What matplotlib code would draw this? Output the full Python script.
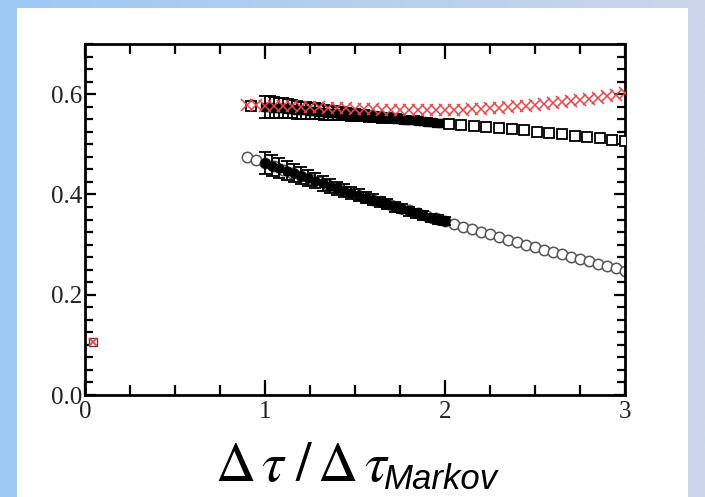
import matplotlib
matplotlib.use('Agg')
import matplotlib.pyplot as plt
import numpy as np
from matplotlib.patches import Rectangle
from matplotlib.ticker import MultipleLocator

# red crosses (x, y)
red_x = [0.90, 0.95, 1.00, 1.05, 1.10, 1.15, 1.20, 1.25, 1.30, 1.35, 1.40,
         1.45, 1.50, 1.55, 1.60, 1.65, 1.70, 1.75, 1.80, 1.85, 1.90, 1.95,
         2.00, 2.05, 2.10, 2.15, 2.20, 2.25, 2.30, 2.35, 2.40, 2.45, 2.50,
         2.55, 2.60, 2.65, 2.70, 2.75, 2.80, 2.85, 2.90, 2.95, 3.00]
red_y = [0.578, 0.578, 0.577, 0.577, 0.576, 0.576, 0.575, 0.574, 0.574, 0.573,
         0.572, 0.572, 0.571, 0.570, 0.570, 0.569, 0.569, 0.568, 0.568, 0.568,
         0.568, 0.568, 0.568, 0.569, 0.569, 0.570, 0.571, 0.572, 0.573, 0.574,
         0.576, 0.577, 0.579, 0.580, 0.582, 0.584, 0.586, 0.588, 0.590, 0.593,
         0.596, 0.599, 0.602]

# squares with error bars, dense part
sq_x = [1.000, 1.025, 1.050, 1.075, 1.100, 1.125, 1.150, 1.175, 1.200,
        1.225, 1.250, 1.275, 1.300, 1.325, 1.350, 1.375, 1.400, 1.425, 1.450,
        1.475, 1.500, 1.525, 1.550, 1.575, 1.600, 1.625, 1.650, 1.675, 1.700,
        1.725, 1.750, 1.775, 1.800, 1.825, 1.850, 1.875, 1.900, 1.925, 1.950,
        1.975, 2.000]
sq_y = [0.575, 0.574, 0.573, 0.573, 0.572, 0.571, 0.570, 0.569, 0.568,
        0.568, 0.567, 0.566, 0.565, 0.564, 0.563, 0.563, 0.562, 0.561, 0.560,
        0.559, 0.558, 0.558, 0.557, 0.556, 0.555, 0.554, 0.553, 0.553, 0.552,
        0.551, 0.550, 0.549, 0.548, 0.548, 0.547, 0.546, 0.545, 0.544, 0.543,
        0.543, 0.542]
sq_err = [0.022, 0.0215, 0.021, 0.020, 0.020, 0.019, 0.018, 0.018, 0.017,
          0.017, 0.016, 0.016, 0.015, 0.015, 0.014, 0.014, 0.013, 0.013, 0.012,
          0.012, 0.012, 0.011, 0.011, 0.011, 0.010, 0.010, 0.010, 0.009, 0.009,
          0.009, 0.008, 0.008, 0.008, 0.008, 0.007, 0.007, 0.007, 0.007, 0.006,
          0.006, 0.006]

# open squares, coarse part
sq2_x = [0.92, 2.02, 2.09, 2.16, 2.23, 2.30, 2.37, 2.44, 2.51, 2.58, 2.65,
         2.72, 2.79, 2.86, 2.93, 3.00]
sq2_y = [0.576, 0.541, 0.539, 0.537, 0.535, 0.533, 0.530, 0.528, 0.525, 0.523,
         0.520, 0.517, 0.515, 0.512, 0.509, 0.506]
sq2_err = [0.004] * 16

# open circles
oc_x = red_x
oc_y = [0.474, 0.468, 0.462, 0.456, 0.449, 0.443, 0.437, 0.431, 0.424, 0.418,
        0.412, 0.406, 0.400, 0.395, 0.389, 0.384, 0.379, 0.373, 0.368, 0.363,
        0.357, 0.352, 0.347, 0.342, 0.336, 0.331, 0.326, 0.321, 0.315, 0.310,
        0.305, 0.300, 0.295, 0.290, 0.286, 0.281, 0.276, 0.271, 0.267, 0.262,
        0.257, 0.253, 0.248]

# filled circles with error bars
fc_x = [1.00, 1.04, 1.08, 1.12, 1.16, 1.20, 1.24, 1.28, 1.32, 1.36, 1.40,
        1.44, 1.48, 1.52, 1.56, 1.60, 1.64, 1.68, 1.72, 1.76, 1.80, 1.84,
        1.88, 1.92, 1.96, 2.00]
fc_y = [0.462, 0.457, 0.452, 0.447, 0.442, 0.437, 0.432, 0.427, 0.422, 0.417,
        0.412, 0.407, 0.402, 0.398, 0.393, 0.389, 0.384, 0.380, 0.375, 0.371,
        0.366, 0.362, 0.358, 0.353, 0.350, 0.347]
fc_err = [0.022, 0.021, 0.020, 0.019, 0.018, 0.017, 0.016, 0.015, 0.015, 0.014,
          0.013, 0.013, 0.012, 0.012, 0.011, 0.011, 0.010, 0.010, 0.010, 0.009,
          0.009, 0.009, 0.008, 0.008, 0.008, 0.008]

# point near zero
p0_x = [0.045]
p0_y = [0.106]

fig = plt.figure(figsize=(7.05, 4.97), dpi=100)

# slide background: blue gradient frame with white panel
bg = fig.add_axes([0, 0, 1, 1])
grad = np.linspace(0, 1, 256)
c0 = np.array([158, 200, 245]) / 255
c1 = np.array([205, 214, 234]) / 255
img = c0[None, None, :] * (1 - grad[None, :, None]) + c1[None, None, :] * grad[None, :, None]
bg.imshow(img, aspect='auto', extent=[0, 1, 0, 1])
bg.add_patch(Rectangle((17 / 705, 0), (688 - 17) / 705, (497 - 8) / 497,
                       facecolor='white', edgecolor='none'))
bg.set_xlim(0, 1)
bg.set_ylim(0, 1)
bg.axis('off')

ax = fig.add_axes([85 / 705, 102 / 497, 540 / 705, 351 / 497])
ax.set_facecolor('white')

ax.plot(oc_x, oc_y, 'o', ms=7.5, mfc='white', mec='#555555', mew=1.1, zorder=2)
ax.errorbar(fc_x, fc_y, yerr=fc_err, fmt='o', ms=6.5, color='black',
            ecolor='black', elinewidth=1.3, capsize=4, capthick=1.3, zorder=3)
ax.errorbar(sq_x, sq_y, yerr=sq_err, fmt='s', ms=6, color='black',
            ecolor='black', elinewidth=1.3, capsize=4, capthick=1.3, zorder=3)
ax.errorbar(sq2_x, sq2_y, yerr=sq2_err, fmt='s', ms=7.5, mfc='white', mec='black',
            mew=1.3, ecolor='black', elinewidth=1.2, capsize=3.5, capthick=1.2, zorder=3)
ax.plot(p0_x, p0_y, 's', ms=6, mfc='white', mec='#444444', mew=1.0, zorder=3)
ax.plot(red_x, red_y, 'x', ms=9, color='#e8454a', mew=1.1, zorder=4)
ax.plot(p0_x, p0_y, 'x', ms=6, color='#e8454a', mew=1.3, zorder=4)

ax.set_xlim(0, 3)
ax.set_ylim(0, 0.7)
ax.xaxis.set_minor_locator(MultipleLocator(0.25))
ax.yaxis.set_minor_locator(MultipleLocator(0.025))
ax.set_xticks([0, 1, 2, 3])
ax.set_xticklabels(['0', '1', '2', '3'])
ax.set_yticks([0, 0.2, 0.4, 0.6])
ax.set_yticklabels(['0.0', '0.2', '0.4', '0.6'])

for s in ax.spines.values():
    s.set_linewidth(2)
ax.tick_params(which='both', direction='in', top=True, right=True,
               colors='black', labelcolor='#222222', width=1.6)
ax.tick_params(axis='x', which='major', length=11, pad=4)
ax.tick_params(axis='x', which='minor', length=7)
ax.tick_params(axis='y', which='major', length=8, pad=2)
ax.tick_params(axis='y', which='minor', length=6)
for lab in ax.get_xticklabels() + ax.get_yticklabels():
    lab.set_fontfamily('Liberation Serif')
    lab.set_fontsize(18)

plt.rcParams['mathtext.fontset'] = 'stix'
fig.text(215 / 705, (497 - 481) / 497, r'$\Delta\,\tau\;/\,\Delta\,\tau$',
         fontsize=40, va='baseline', ha='left', color='black')
fig.text(384 / 705, 1 / 497, 'Markov', fontsize=25, style='italic',
         family='Liberation Sans', va='bottom', ha='left', color='black')

fig.savefig('out.png', dpi=100)
